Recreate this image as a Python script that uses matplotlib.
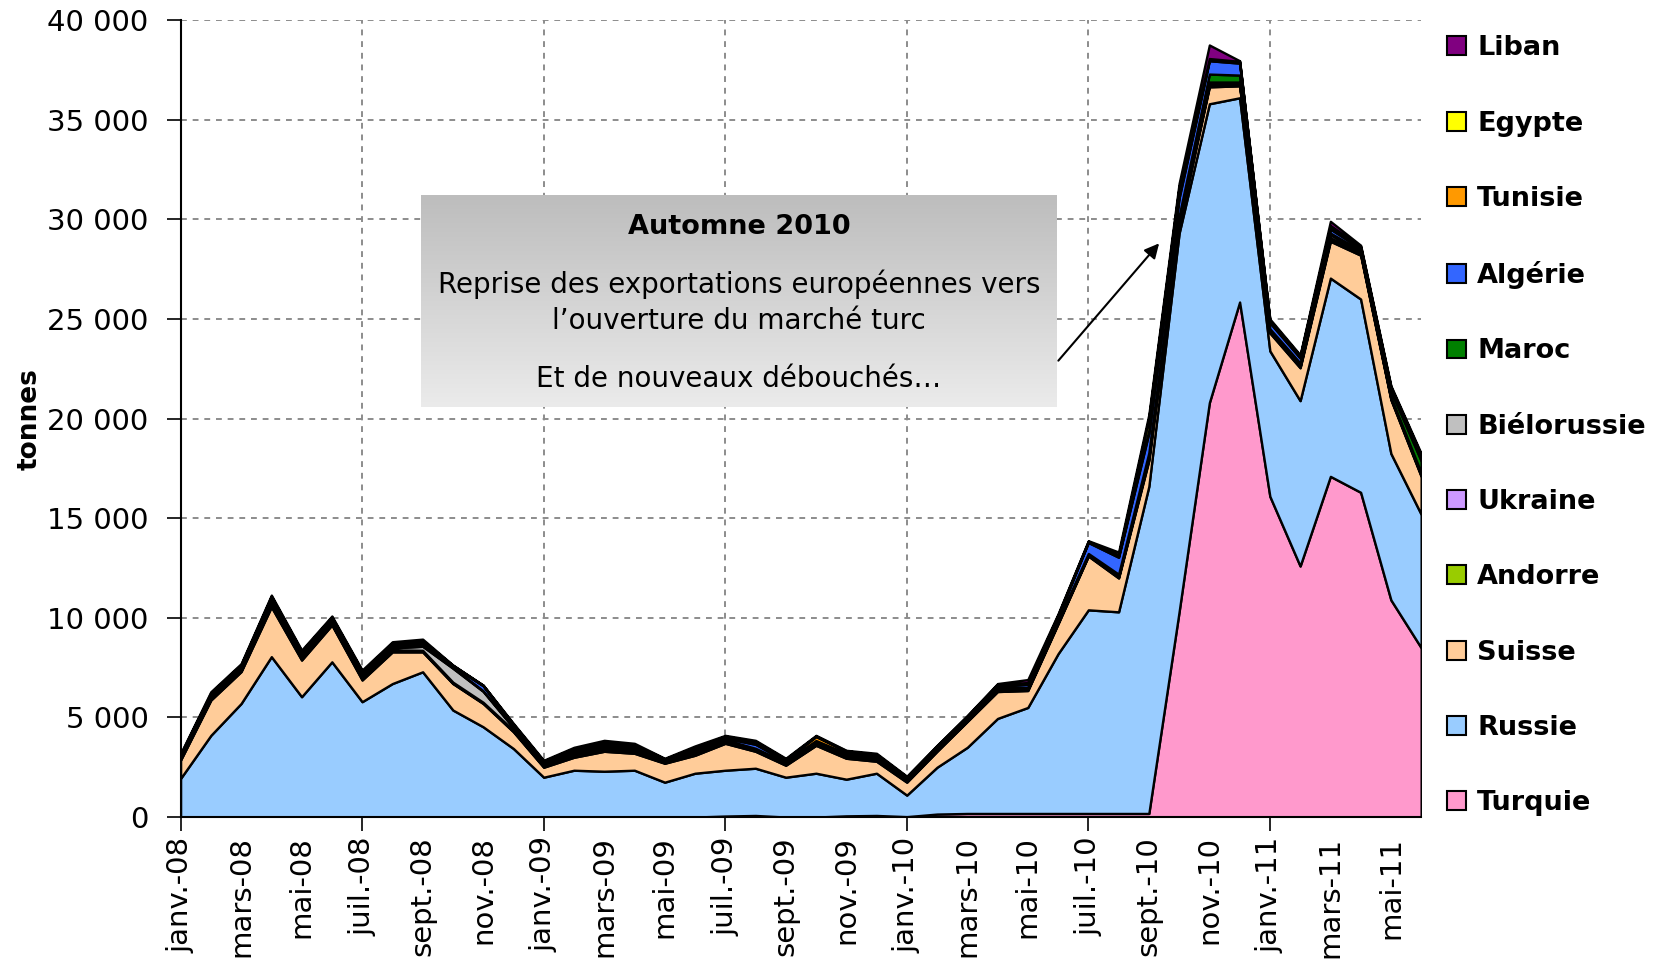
import numpy as np
import matplotlib.pyplot as plt
from matplotlib.patches import Patch
from matplotlib.colors import LinearSegmentedColormap
from matplotlib.ticker import FuncFormatter

# mois de janv.-08 a juin-11
mois = ['janv.-08', 'févr.-08', 'mars-08', 'avr.-08', 'mai-08', 'juin-08',
        'juil.-08', 'août-08', 'sept.-08', 'oct.-08', 'nov.-08', 'déc.-08',
        'janv.-09', 'févr.-09', 'mars-09', 'avr.-09', 'mai-09', 'juin-09',
        'juil.-09', 'août-09', 'sept.-09', 'oct.-09', 'nov.-09', 'déc.-09',
        'janv.-10', 'févr.-10', 'mars-10', 'avr.-10', 'mai-10', 'juin-10',
        'juil.-10', 'août-10', 'sept.-10', 'oct.-10', 'nov.-10', 'déc.-10',
        'janv.-11', 'févr.-11', 'mars-11', 'avr.-11', 'mai-11', 'juin-11']

# tonnes
turquie = [0, 0, 0, 0, 0, 0, 0, 0, 0, 0, 0, 0,
           0, 0, 0, 0, 0, 0, 50, 80, 0, 0, 60, 80,
           20, 150, 180, 180, 180, 180, 180, 180, 180, 10300, 20800, 25850,
           16100, 12600, 17100, 16300, 10900, 8500]
russie = [1940, 4100, 5700, 8050, 6040, 7790, 5790, 6700, 7290, 5370, 4530, 3440,
          2000, 2350, 2300, 2350, 1750, 2200, 2300, 2370, 2000, 2200, 1840, 2120,
          1080, 2350, 3320, 4770, 5320, 8020, 10220, 10120, 16420, 19000, 15000, 10250,
          7300, 8300, 9950, 9700, 7350, 6700]
suisse = [920, 1770, 1600, 2500, 1840, 1850, 1090, 1590, 1000, 1330, 1170, 840,
          500, 650, 1000, 850, 950, 900, 1350, 850, 600, 1400, 1050, 600,
          650, 800, 1300, 1350, 850, 1500, 2700, 1700, 1300, 400, 850, 600,
          900, 1650, 1850, 2200, 2700, 1900]
andorre = [40, 60, 50, 80, 60, 50, 60, 50, 40, 30, 30, 40,
           40, 60, 60, 60, 30, 50, 40, 40, 40, 40, 100, 80,
           40, 40, 30, 40, 40, 40, 30, 50, 100, 100, 80, 60,
           50, 60, 100, 60, 50, 60]
ukraine = [30, 40, 40, 60, 50, 50, 50, 50, 40, 40, 30, 40,
           30, 50, 60, 50, 20, 40, 40, 30, 30, 40, 30, 30,
           30, 30, 30, 40, 40, 40, 30, 40, 80, 100, 60, 50,
           40, 40, 80, 40, 40, 50]
bielorussie = [40, 50, 50, 80, 60, 60, 70, 100, 200, 700, 550, 120,
               50, 70, 70, 70, 40, 60, 50, 40, 40, 40, 40, 50,
               40, 40, 40, 50, 40, 40, 40, 50, 100, 120, 100, 80,
               60, 80, 150, 80, 50, 70]
maroc = [40, 50, 50, 70, 60, 50, 60, 60, 60, 40, 30, 40,
         40, 60, 60, 60, 30, 60, 50, 40, 40, 40, 30, 40,
         40, 40, 40, 50, 50, 50, 30, 50, 100, 150, 400, 350,
         60, 60, 80, 60, 300, 600]
algerie = [50, 60, 60, 100, 80, 70, 80, 70, 90, 60, 250, 60,
           60, 80, 100, 80, 40, 80, 80, 200, 60, 80, 50, 60,
           50, 50, 50, 80, 150, 200, 550, 850, 1000, 900, 670, 600,
           300, 250, 200, 100, 80, 150]
tunisie = [40, 50, 50, 70, 70, 60, 60, 60, 60, 30, 20, 40,
           50, 70, 70, 60, 30, 60, 50, 100, 60, 200, 100, 50,
           30, 30, 40, 50, 40, 40, 30, 60, 150, 150, 60, 40,
           60, 50, 80, 50, 60, 80]
egypte = [40, 50, 50, 70, 60, 60, 60, 60, 70, 20, 0, 40,
          40, 60, 70, 60, 30, 60, 50, 50, 40, 30, 20, 40,
          40, 40, 40, 50, 40, 40, 30, 60, 600, 400, 50, 50,
          60, 60, 100, 50, 60, 70]
liban = [50, 60, 50, 60, 60, 50, 60, 60, 80, 10, 10, 40,
         40, 50, 60, 60, 30, 60, 40, 50, 40, 30, 30, 50,
         30, 30, 30, 40, 150, 50, 30, 140, 170, 180, 680, 30,
         70, 50, 210, 60, 60, 70]

pays = ['Turquie', 'Russie', 'Suisse', 'Andorre', 'Ukraine', 'Biélorussie',
        'Maroc', 'Algérie', 'Tunisie', 'Egypte', 'Liban']
series = [turquie, russie, suisse, andorre, ukraine, bielorussie,
          maroc, algerie, tunisie, egypte, liban]
couleurs = ['#FF99CC', '#99CCFF', '#FFCC99', '#99CC00', '#CC99FF', '#C0C0C0',
            '#008000', '#3366FF', '#FF9900', '#FFFF00', '#800080']

x = np.arange(len(mois))

fig = plt.figure(figsize=(16.55, 9.61), dpi=100)
ax = fig.add_axes([0.1091, 0.1498, 0.7496, 0.8293])

ax.stackplot(x, *series, colors=couleurs, edgecolor='black', linewidth=1.7, zorder=2)

# encadre degrade
grad = LinearSegmentedColormap.from_list('box', ['#ebebeb', '#bdbdbd'])
ax.imshow(np.linspace(0, 1, 256).reshape(-1, 1), cmap=grad, origin='lower',
          extent=[7.95, 28.95, 20600, 31200], aspect='auto', zorder=4)
ax.text(18.45, 29600, 'Automne 2010', ha='center', va='center',
        fontsize=19.5, fontweight='bold', zorder=5)
ax.text(18.45, 26750, 'Reprise des exportations européennes vers', ha='center',
        va='center', fontsize=20, zorder=5)
ax.text(18.45, 24900, 'l\u2019ouverture du marché turc', ha='center',
        va='center', fontsize=20, zorder=5)
ax.text(18.45, 22000, 'Et de nouveaux débouchés\u2026', ha='center',
        va='center', fontsize=20, zorder=5)
ax.annotate('', xy=(32.4, 28900), xytext=(28.95, 22800),
            arrowprops=dict(arrowstyle='-|>', color='black', lw=1.5,
                            mutation_scale=22), zorder=5)

ax.set_xlim(0, 41)
ax.set_ylim(0, 40000)

ax.set_yticks(np.arange(0, 40001, 5000))
ax.yaxis.set_major_formatter(FuncFormatter(lambda v, p: f'{v:,.0f}'.replace(',', ' ')))
ax.tick_params(axis='y', labelsize=21, length=10, width=1.2, pad=13)

ax.xaxis.remove_overlapping_locs = False
ax.set_xticks(x[::2])
ax.set_xticklabels(mois[::2], rotation=90)
ax.set_xticks(x[::6], minor=True)
ax.tick_params(axis='x', which='major', labelsize=21, length=0, pad=14)
ax.tick_params(axis='x', which='minor', length=10, width=1.2)

ax.grid(True, axis='y', which='major', color='#8c8c8c', linestyle=(0, (3, 3)), linewidth=1.4)
ax.grid(True, axis='x', which='minor', color='#8c8c8c', linestyle=(0, (3, 3)), linewidth=1.4)
ax.set_axisbelow(True)

for s in ['top', 'right']:
    ax.spines[s].set_visible(False)
ax.spines['left'].set_linewidth(1.5)
ax.spines['bottom'].set_linewidth(1.5)

ax.set_ylabel('tonnes', fontsize=19, fontweight='bold')
ax.yaxis.set_label_coords(-0.1115, 0.5)

handles = [Patch(facecolor=c, edgecolor='black', linewidth=1.5, label=p)
           for p, c in zip(pays, couleurs)][::-1]
fig.legend(handles=handles, loc='upper left', bbox_to_anchor=(0.863, 0.983),
           frameon=False, prop={'size': 19.5, 'weight': 'bold'},
           handlelength=0.7, handleheight=0.7, handletextpad=0.4,
           labelspacing=1.82, borderpad=0.2)

fig.savefig('out.png', dpi=100)
